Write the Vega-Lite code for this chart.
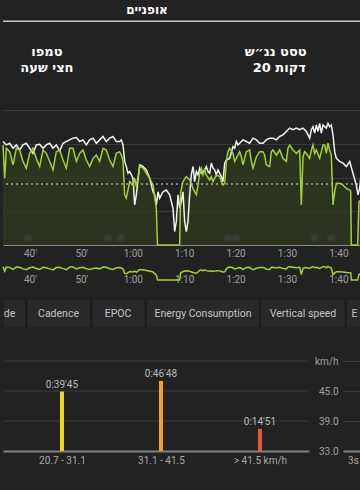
{
"$schema":"https://vega.github.io/schema/vega-lite/v6.json",
"background":"#222222",
"padding":{"left":0,"top":0,"right":0,"bottom":30},
"config":{"view":{"stroke":null},"axis":{"labelFont":"Roboto","labelColor":"#a0a0a0","labelFontSize":10}},
"datasets":{
"hr":[{"t":34.75,"v":30.7},{"t":35.40,"v":29.7},{"t":36.05,"v":30.2},{"t":36.70,"v":28.7},{"t":37.34,"v":29.7},{"t":37.99,"v":28.2},{"t":38.64,"v":29.7},{"t":39.29,"v":30.2},{"t":39.94,"v":28.7},{"t":40.59,"v":27.2},{"t":41.23,"v":29.7},{"t":41.88,"v":29.9},{"t":42.53,"v":28.7},{"t":43.18,"v":29.7},{"t":43.83,"v":30.2},{"t":44.48,"v":28.7},{"t":45.12,"v":29.7},{"t":45.78,"v":27.9},{"t":46.42,"v":30.2},{"t":47.07,"v":30.7},{"t":47.72,"v":31.2},{"t":48.37,"v":31.7},{"t":49.02,"v":31.9},{"t":49.67,"v":30.7},{"t":50.31,"v":31.2},{"t":50.96,"v":29.7},{"t":51.61,"v":31.2},{"t":52.26,"v":31.7},{"t":52.91,"v":30.2},{"t":53.56,"v":31.2},{"t":54.21,"v":32.2},{"t":54.85,"v":30.7},{"t":55.50,"v":31.7},{"t":56.15,"v":32.2},{"t":56.80,"v":30.7},{"t":57.45,"v":30.7},{"t":57.77,"v":31.2},{"t":58.10,"v":29.7},{"t":58.42,"v":24.8},{"t":58.74,"v":23.3},{"t":59.07,"v":21.3},{"t":59.39,"v":21.8},{"t":60.04,"v":19.8},{"t":60.37,"v":11.9},{"t":60.69,"v":14.9},{"t":61.34,"v":23.8},{"t":61.99,"v":23.3},{"t":62.64,"v":22.3},{"t":63.29,"v":19.8},{"t":63.93,"v":15.8},{"t":64.26,"v":14.9},{"t":64.58,"v":11.9},{"t":64.91,"v":15.8},{"t":65.23,"v":13.9},{"t":65.88,"v":15.8},{"t":66.53,"v":16.3},{"t":67.18,"v":14.9},{"t":67.82,"v":10.9},{"t":68.15,"v":4.0},{"t":68.47,"v":6.9},{"t":68.80,"v":14.9},{"t":69.12,"v":10.9},{"t":69.45,"v":12.9},{"t":69.77,"v":15.8},{"t":70.09,"v":6.9},{"t":70.42,"v":4.0},{"t":70.74,"v":6.9},{"t":71.07,"v":14.9},{"t":71.39,"v":20.8},{"t":71.72,"v":23.3},{"t":72.04,"v":18.8},{"t":72.36,"v":21.8},{"t":72.69,"v":20.8},{"t":73.01,"v":22.8},{"t":73.34,"v":21.3},{"t":73.66,"v":21.8},{"t":73.99,"v":22.3},{"t":74.31,"v":23.3},{"t":74.63,"v":21.8},{"t":74.96,"v":21.3},{"t":75.28,"v":24.3},{"t":75.61,"v":22.8},{"t":75.93,"v":22.3},{"t":76.25,"v":20.8},{"t":76.58,"v":22.3},{"t":76.90,"v":21.3},{"t":77.23,"v":20.3},{"t":77.55,"v":18.8},{"t":77.88,"v":24.3},{"t":78.20,"v":25.2},{"t":78.85,"v":25.7},{"t":79.50,"v":29.2},{"t":79.82,"v":28.7},{"t":80.15,"v":30.7},{"t":80.47,"v":29.7},{"t":80.80,"v":30.2},{"t":81.44,"v":31.2},{"t":82.09,"v":30.7},{"t":82.74,"v":30.2},{"t":83.39,"v":31.7},{"t":84.04,"v":31.2},{"t":84.69,"v":30.2},{"t":85.33,"v":30.2},{"t":85.98,"v":31.2},{"t":86.63,"v":31.7},{"t":87.28,"v":31.7},{"t":87.93,"v":31.2},{"t":88.58,"v":32.2},{"t":89.22,"v":32.7},{"t":89.87,"v":33.7},{"t":90.52,"v":34.7},{"t":91.17,"v":34.2},{"t":91.82,"v":34.7},{"t":92.47,"v":34.2},{"t":93.12,"v":34.7},{"t":93.76,"v":33.7},{"t":94.41,"v":31.7},{"t":94.74,"v":34.2},{"t":95.06,"v":35.1},{"t":95.39,"v":33.2},{"t":95.71,"v":35.6},{"t":96.03,"v":33.7},{"t":96.36,"v":36.1},{"t":96.68,"v":33.2},{"t":97.01,"v":35.6},{"t":97.66,"v":34.7},{"t":97.98,"v":36.1},{"t":98.30,"v":35.1},{"t":98.63,"v":35.6},{"t":98.95,"v":32.7},{"t":99.28,"v":27.7},{"t":99.60,"v":25.7},{"t":100.25,"v":24.8},{"t":100.90,"v":24.3},{"t":101.55,"v":23.3},{"t":102.20,"v":24.8},{"t":102.84,"v":21.3},{"t":103.49,"v":17.8},{"t":103.82,"v":14.9},{"t":104.14,"v":16.8},{"t":104.47,"v":21.8},{"t":104.79,"v":22.8}],
"spd":[{"t":34.75,"v":29.7},{"t":35.08,"v":19.8},{"t":35.40,"v":28.7},{"t":36.05,"v":27.7},{"t":36.70,"v":23.8},{"t":37.34,"v":28.7},{"t":37.99,"v":28.2},{"t":38.64,"v":24.8},{"t":39.29,"v":22.8},{"t":39.94,"v":27.2},{"t":40.59,"v":28.7},{"t":41.23,"v":25.7},{"t":41.88,"v":23.3},{"t":42.53,"v":28.2},{"t":43.18,"v":27.2},{"t":43.83,"v":24.8},{"t":44.48,"v":22.3},{"t":45.12,"v":27.7},{"t":45.78,"v":28.2},{"t":46.42,"v":25.2},{"t":47.07,"v":22.8},{"t":47.72,"v":28.7},{"t":48.37,"v":28.7},{"t":49.02,"v":24.8},{"t":49.67,"v":27.2},{"t":50.31,"v":28.2},{"t":50.96,"v":25.2},{"t":51.61,"v":23.3},{"t":52.26,"v":25.7},{"t":52.91,"v":26.7},{"t":53.56,"v":24.8},{"t":54.21,"v":28.7},{"t":54.85,"v":28.2},{"t":55.50,"v":25.2},{"t":56.15,"v":23.3},{"t":56.80,"v":27.2},{"t":57.45,"v":27.7},{"t":57.77,"v":26.7},{"t":58.10,"v":24.8},{"t":58.42,"v":14.9},{"t":58.74,"v":13.9},{"t":59.39,"v":18.8},{"t":60.04,"v":17.8},{"t":60.37,"v":19.8},{"t":60.69,"v":17.3},{"t":61.34,"v":23.3},{"t":61.99,"v":22.8},{"t":62.64,"v":21.3},{"t":63.29,"v":19.8},{"t":63.93,"v":17.8},{"t":64.58,"v":10.9},{"t":64.81,"v":0},{"t":69.12,"v":0},{"t":69.30,"v":15.5},{"t":69.77,"v":18.8},{"t":70.42,"v":20.3},{"t":71.07,"v":19.3},{"t":71.72,"v":16.8},{"t":72.36,"v":14.9},{"t":72.69,"v":17.8},{"t":73.01,"v":21.3},{"t":73.34,"v":22.8},{"t":73.66,"v":20.8},{"t":73.99,"v":22.3},{"t":74.31,"v":20.8},{"t":74.96,"v":19.3},{"t":75.28,"v":20.3},{"t":75.61,"v":18.8},{"t":76.25,"v":20.8},{"t":76.90,"v":20.3},{"t":77.23,"v":18.8},{"t":77.55,"v":17.8},{"t":77.88,"v":18.3},{"t":78.20,"v":24.8},{"t":78.52,"v":27.7},{"t":78.85,"v":28.7},{"t":79.50,"v":27.2},{"t":79.82,"v":24.8},{"t":80.15,"v":25.7},{"t":80.80,"v":27.7},{"t":81.12,"v":26.2},{"t":81.44,"v":23.8},{"t":82.09,"v":27.7},{"t":82.74,"v":28.2},{"t":83.06,"v":24.8},{"t":83.39,"v":22.8},{"t":84.04,"v":26.2},{"t":84.69,"v":27.7},{"t":85.33,"v":27.7},{"t":85.66,"v":26.7},{"t":85.98,"v":23.8},{"t":86.63,"v":23.3},{"t":86.96,"v":27.7},{"t":87.28,"v":28.2},{"t":87.93,"v":26.7},{"t":88.58,"v":28.2},{"t":89.22,"v":25.7},{"t":89.87,"v":24.8},{"t":90.20,"v":28.7},{"t":90.52,"v":29.7},{"t":91.17,"v":28.2},{"t":91.82,"v":27.2},{"t":92.47,"v":28.2},{"t":92.79,"v":11.9},{"t":93.12,"v":26.2},{"t":93.44,"v":27.7},{"t":93.76,"v":27.2},{"t":94.41,"v":25.7},{"t":94.74,"v":28.2},{"t":95.06,"v":29.7},{"t":95.39,"v":27.2},{"t":95.71,"v":28.2},{"t":96.36,"v":25.7},{"t":97.01,"v":29.7},{"t":97.33,"v":29.7},{"t":97.66,"v":27.2},{"t":97.98,"v":30.2},{"t":98.30,"v":28.2},{"t":98.63,"v":26.7},{"t":98.95,"v":11.9},{"t":99.28,"v":15.8},{"t":99.60,"v":18.3},{"t":100.25,"v":18.3},{"t":100.90,"v":17.8},{"t":101.55,"v":16.8},{"t":102.20,"v":16.3},{"t":102.40,"v":16.0},{"t":102.52,"v":0},{"t":103.75,"v":0},{"t":104.01,"v":12.9},{"t":104.79,"v":13.9}],
"laps":[{"t":39.61},{"t":55.18},{"t":57.71},{"t":78.52},{"t":80.08},{"t":95.39},{"t":98.62}],
"notes":[{"t":43.3,"v":57.3,"text":"טמפו"},{"t":43.3,"v":52.5,"text":"חצי שעה"},{"t":87.8,"v":57.3,"text":"טסט נג״ש"},{"t":88.5,"v":52.5,"text":"דקות 20"}],
"tabs":[{"name":"de","x0":0,"x1":22.5,"tx":6.5},{"name":"Cadence","x0":24,"x1":87.5,"tx":55.5},{"name":"EPOC","x0":89,"x1":142,"tx":115},{"name":"Energy Consumption","x0":143.5,"x1":256,"tx":200},{"name":"Vertical speed","x0":257.5,"x1":342,"tx":300},{"name":"E","x0":343.5,"x1":360,"tx":351.5}],
"zones":[{"zone":"20.7 - 31.1","min":39.75,"label":"0:39'45","color":"#f5d624"},{"zone":"31.1 - 41.5","min":46.8,"label":"0:46'48","color":"#f4a034"},{"zone":"> 41.5 km/h","min":14.85,"label":"0:14'51","color":"#e8553a"}]
},
"vconcat":[
{"width":360,"height":245,
 "layer":[
  {"data":{"name":"spd"},"mark":{"type":"area","color":"#303c1f","opacity":0.7},
   "encoding":{
    "x":{"field":"t","type":"quantitative","scale":{"domain":[34.75,104.79],"nice":false,"zero":false},
      "axis":{"values":[40,50,60,70,80,90,100],"labelExpr":"datum.value < 60 ? datum.value + \"'\" : floor(datum.value / 60) + ':' + (datum.value % 60 < 10 ? '0' : '') + (datum.value % 60)","ticks":false,"grid":false,"domain":true,"domainColor":"#8c8c8c","domainWidth":1,"labelBaseline":"middle","labelPadding":8,"title":null}},
    "y":{"field":"v","type":"quantitative","scale":{"domain":[0,72.7],"nice":false,"zero":false},
      "axis":{"values":[10,20,30,40],"grid":true,"gridColor":"#3c3c3c","gridWidth":1,"labels":false,"ticks":false,"domain":false,"title":null}}}},
  {"data":{"name":"laps"},"mark":{"type":"square","size":50,"color":"#4b5056","opacity":0.35},
   "encoding":{"x":{"field":"t","type":"quantitative"},"y":{"datum":2.1,"type":"quantitative"}}},
  {"data":{"values":[{}]},"mark":{"type":"rule","color":"#e6e6e6","strokeDash":[2,3],"strokeWidth":1},
   "encoding":{"y":{"datum":18.1,"type":"quantitative"}}},
  {"data":{"name":"hr"},"mark":{"type":"line","color":"#f2f2f2","strokeWidth":1.5},
   "encoding":{"x":{"field":"t","type":"quantitative"},"y":{"field":"v","type":"quantitative"}}},
  {"data":{"name":"spd"},"mark":{"type":"line","color":"#a2d232","strokeWidth":1.5},
   "encoding":{"x":{"field":"t","type":"quantitative"},"y":{"field":"v","type":"quantitative"}}},
  {"data":{"name":"notes"},"mark":{"type":"text","color":"#ffffff","font":"DejaVu Sans","fontWeight":"bold","fontSize":13,"align":"center","baseline":"middle"},
   "encoding":{"x":{"field":"t","type":"quantitative"},"y":{"field":"v","type":"quantitative"},"text":{"field":"text","type":"nominal"}}},
  {"data":{"values":[{"t":62.76,"v":69.7,"text":"אופניים"}]},"mark":{"type":"text","color":"#ffffff","font":"DejaVu Sans","fontWeight":"bold","fontSize":12,"align":"center","baseline":"middle"},
   "encoding":{"x":{"field":"t","type":"quantitative"},"y":{"field":"v","type":"quantitative"},"text":{"field":"text","type":"nominal"}}},
  {"data":{"values":[{}]},"mark":{"type":"rule","color":"#c8c8c8","strokeWidth":1.5},
   "encoding":{"y":{"datum":66.4,"type":"quantitative"}}}
 ]},
{"width":360,"height":54,
 "data":{"name":"spd"},
 "mark":{"type":"line","color":"#a2d232","strokeWidth":1.5},
 "encoding":{
  "x":{"field":"t","type":"quantitative","scale":{"domain":[34.75,104.79],"nice":false,"zero":false},
    "axis":{"values":[40,50,60,70,80,90,100],"labelExpr":"datum.value < 60 ? datum.value + \"'\" : floor(datum.value / 60) + ':' + (datum.value % 60 < 10 ? '0' : '') + (datum.value % 60)","ticks":false,"grid":false,"domain":false,"labelBaseline":"middle","labelPadding":0,"offset":-20,"title":null}},
  "y":{"field":"v","type":"quantitative","scale":{"domain":[-42.2,77.8],"nice":false,"zero":false},"axis":null}}},
{"width":360,"height":29,
 "data":{"name":"tabs"},
 "layer":[
  {"mark":{"type":"rect","color":"#292929","stroke":"#1b1b1b","strokeWidth":1},
   "encoding":{"x":{"field":"x0","type":"quantitative","scale":{"domain":[0,360],"nice":false,"zero":false},"axis":null},"x2":{"field":"x1"}}},
  {"mark":{"type":"text","color":"#c4c4c4","font":"Roboto","fontSize":10.5,"align":"center","baseline":"middle"},
   "encoding":{"x":{"field":"tx","type":"quantitative"},"text":{"field":"name","type":"nominal"}}}
 ]},
{"hconcat":[
  {"width":306,"height":123,
   "layer":[
    {"data":{"values":[{"k":39},{"k":45},{"k":51}]},"mark":{"type":"rule","color":"#3c3c3c","strokeWidth":1},
     "encoding":{"y":{"field":"k","type":"quantitative","scale":{"domain":[33,57.6],"nice":false,"zero":false},
       "axis":{"orient":"right","values":[33,39,45,51],"labelExpr":"datum.value == 51 ? 'km/h' : format(datum.value, '.1f')","ticks":false,"domain":false,"grid":false,"labelAlign":"right","labelPadding":29,"labelBaseline":"middle","title":null}}}},
    {"data":{"name":"zones"},"mark":{"type":"rule","strokeWidth":4},
     "encoding":{
      "x":{"field":"zone","type":"ordinal","sort":null,"scale":{"type":"point","padding":0.5455,"align":0.546},
        "axis":{"ticks":false,"domain":true,"domainColor":"#808080","domainWidth":2,"labelAngle":0,"labelPadding":4,"labelColor":"#a8a8a8","title":null}},
      "y":{"field":"min","type":"quantitative","scale":{"domain":[0,82.2],"nice":false,"zero":false},"axis":null},
      "y2":{"datum":0},
      "color":{"field":"color","type":"nominal","scale":null,"legend":null}}},
    {"data":{"name":"zones"},"mark":{"type":"text","dy":-2,"baseline":"bottom","align":"center","color":"#bdbdbd","font":"Roboto","fontSize":10},
     "encoding":{"x":{"field":"zone","type":"ordinal","sort":null},"y":{"field":"min","type":"quantitative","scale":{"domain":[0,82.2],"nice":false,"zero":false},"axis":null},"text":{"field":"label","type":"nominal"}}}
   ],
   "resolve":{"scale":{"y":"independent"},"axis":{"y":"independent"}}},
  {"width":20,"height":123,
   "data":{"values":[{"x":"3s","k":33}]},
   "mark":{"type":"point","opacity":0},
   "encoding":{
    "x":{"field":"x","type":"nominal","scale":{"type":"point"},"axis":{"ticks":false,"domain":true,"domainColor":"#808080","domainWidth":2,"labelAngle":0,"labelPadding":4,"labelColor":"#a8a8a8","title":null}},
    "y":{"field":"k","type":"quantitative","scale":{"domain":[33,57.6],"nice":false,"zero":false},"axis":{"values":[39,45,51],"grid":true,"gridColor":"#3c3c3c","labels":false,"ticks":false,"domain":false,"title":null}}}}
 ],
 "spacing":34,"bounds":"flush"}
],
"spacing":0,
"bounds":"flush"
}
